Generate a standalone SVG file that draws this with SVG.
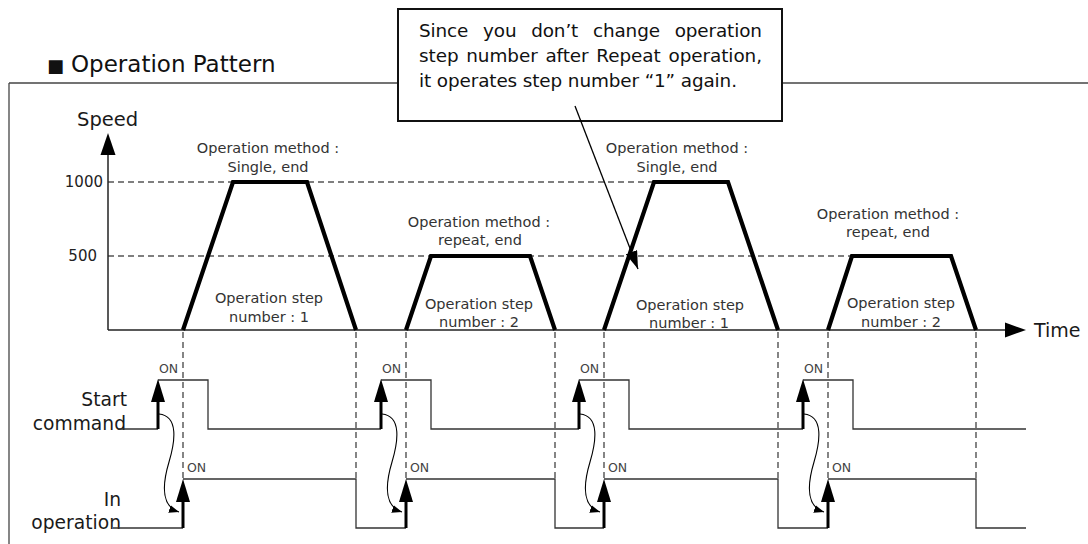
<svg xmlns="http://www.w3.org/2000/svg" width="1088" height="544" viewBox="0 0 1088 544">
<style>
text{font-family:"DejaVu Sans","Liberation Sans",sans-serif}
.big{font-size:18.7px;fill:#1a1a1a}
.lbl{font-size:14.5px;fill:#333;text-anchor:middle}
.on{font-size:12.5px;fill:#444}
.tick{font-size:15px;fill:#222;text-anchor:end}
.frame{stroke:#444;stroke-width:1.3;fill:none}
.hdash{stroke:#555;stroke-width:1.3;stroke-dasharray:6 4;fill:none}
.vdash{stroke:#222;stroke-width:1.1;stroke-dasharray:6 4;fill:none}
.axis{stroke:#222;stroke-width:1.5;fill:none}
.trap{stroke:#000;stroke-width:4.2;fill:none;stroke-linejoin:miter}
.sig{stroke:#333;stroke-width:1.3;fill:none}
.shaft{stroke:#000;stroke-width:3;fill:none}
.curve{stroke:#000;stroke-width:1.1;fill:none;marker-end:url(#small)}
.ah{fill:#000}
</style>
<defs>
<marker id="small" viewBox="0 0 10 8" refX="10" refY="4" markerWidth="10" markerHeight="8" markerUnits="userSpaceOnUse" orient="auto">
<path d="M0,0 L10,4 L0,8 Z" fill="#000"/>
</marker>
<marker id="ptr" viewBox="0 0 18 12" refX="18" refY="6" markerWidth="18" markerHeight="12" markerUnits="userSpaceOnUse" orient="auto">
<path d="M0,0 L18,6 L0,12 Z" fill="#000"/>
</marker>
</defs>

<g id="frame">
<line class="frame" x1="9" y1="83" x2="1088" y2="83"/>
<line class="frame" x1="9" y1="83" x2="9" y2="544"/>
<text x="47" y="72" style="font-size:23px;fill:#111"><tspan style="font-size:18px">■</tspan> <tspan x="71">Operation Pattern</tspan></text>
</g>

<g id="speed-axes">
<line class="hdash" x1="108" y1="182" x2="654" y2="182"/>
<line class="hdash" x1="108" y1="256" x2="852" y2="256"/>
<line class="axis" x1="108" y1="330" x2="108" y2="153"/>
<polygon class="ah" points="108,133 100.5,155 115.5,155"/>
<line class="axis" x1="108" y1="330" x2="1007" y2="330"/>
<polygon class="ah" points="1026,330 1005,322.5 1005,337.5"/>
<text x="77" y="126" style="font-size:19.5px;fill:#1a1a1a">Speed</text>
<text x="1034" y="337" style="font-size:19px;fill:#1a1a1a">Time</text>
<text class="tick" x="103" y="187">1000</text>
<text class="tick" x="97" y="261">500</text>
</g>

<g id="step1">
<polyline class="trap" points="183,330 233,182 307,182 356,330"/>
<text class="lbl" x="268" y="153">Operation method :</text>
<text class="lbl" x="268" y="172">Single, end</text>
<text class="lbl" x="269" y="303">Operation step</text>
<text class="lbl" x="269" y="322">number : 1</text>
</g>
<g id="step2">
<polyline class="trap" points="406,330 431,256 530,256 555,330"/>
<text class="lbl" x="479" y="227">Operation method :</text>
<text class="lbl" x="480" y="245">repeat, end</text>
<text class="lbl" x="479" y="309">Operation step</text>
<text class="lbl" x="479" y="327">number : 2</text>
</g>
<g id="step3">
<polyline class="trap" points="604,330 654,182 728,182 778,330"/>
<text class="lbl" x="677" y="153">Operation method :</text>
<text class="lbl" x="677" y="172">Single, end</text>
<text class="lbl" x="690" y="310">Operation step</text>
<text class="lbl" x="689" y="328">number : 1</text>
</g>
<g id="step4">
<polyline class="trap" points="828,330 852,256 951,256 976,330"/>
<text class="lbl" x="888" y="219">Operation method :</text>
<text class="lbl" x="888" y="237">repeat, end</text>
<text class="lbl" x="901" y="308">Operation step</text>
<text class="lbl" x="901" y="327">number : 2</text>
</g>

<g id="guides">
<line class="vdash" x1="183" y1="332" x2="183" y2="479"/>
<line class="vdash" x1="356" y1="332" x2="356" y2="479"/>
<line class="vdash" x1="406" y1="332" x2="406" y2="479"/>
<line class="vdash" x1="555" y1="332" x2="555" y2="479"/>
<line class="vdash" x1="604" y1="332" x2="604" y2="479"/>
<line class="vdash" x1="778" y1="332" x2="778" y2="479"/>
<line class="vdash" x1="828" y1="332" x2="828" y2="479"/>
<line class="vdash" x1="976" y1="332" x2="976" y2="479"/>
</g>

<g id="start-command">
<text class="big" x="127" y="406" text-anchor="end">Start</text>
<text class="big" x="126" y="430" text-anchor="end">command</text>
<polyline class="sig" points="118,429 158,429"/>
<polyline class="sig" points="158,380 208,380 208,429 381,429"/>
<polyline class="sig" points="381,380 431,380 431,429 579,429"/>
<polyline class="sig" points="579,380 629,380 629,429 803,429"/>
<polyline class="sig" points="803,380 853,380 853,429 1026,429"/>
<g id="start-arrows">
<line class="shaft" x1="158" y1="429" x2="158" y2="400"/><polygon class="ah" points="158,379 151,402 165,402"/>
<line class="shaft" x1="381" y1="429" x2="381" y2="400"/><polygon class="ah" points="381,379 374,402 388,402"/>
<line class="shaft" x1="579" y1="429" x2="579" y2="400"/><polygon class="ah" points="579,379 572,402 586,402"/>
<line class="shaft" x1="803" y1="429" x2="803" y2="400"/><polygon class="ah" points="803,379 796,402 810,402"/>
</g>
<text class="on" x="159" y="373">ON</text>
<text class="on" x="382" y="373">ON</text>
<text class="on" x="580" y="373">ON</text>
<text class="on" x="804" y="373">ON</text>
</g>

<g id="in-operation">
<text class="big" x="121" y="506" text-anchor="end">In</text>
<text class="big" x="121" y="529" text-anchor="end">operation</text>
<polyline class="sig" points="113,528 183,528"/>
<polyline class="sig" points="183,479 356,479 356,528 406,528"/>
<polyline class="sig" points="406,479 555,479 555,528 604,528"/>
<polyline class="sig" points="604,479 778,479 778,528 828,528"/>
<polyline class="sig" points="828,479 976,479 976,528 1026,528"/>
<g id="inop-arrows">
<line class="shaft" x1="183" y1="528" x2="183" y2="500"/><polygon class="ah" points="183,479 176,502 190,502"/>
<line class="shaft" x1="406" y1="528" x2="406" y2="500"/><polygon class="ah" points="406,479 399,502 413,502"/>
<line class="shaft" x1="604" y1="528" x2="604" y2="500"/><polygon class="ah" points="604,479 597,502 611,502"/>
<line class="shaft" x1="828" y1="528" x2="828" y2="500"/><polygon class="ah" points="828,479 821,502 835,502"/>
</g>
<text class="on" x="187" y="472">ON</text>
<text class="on" x="410" y="472">ON</text>
<text class="on" x="608" y="472">ON</text>
<text class="on" x="832" y="472">ON</text>
</g>

<g id="callout">
<rect x="398" y="9" width="384" height="112" fill="#fff" stroke="#111" stroke-width="2"/>
<text x="419" y="37" style="font-size:18.4px;fill:#111;word-spacing:9px" textLength="343">Since you don’t change operation</text>
<text x="419" y="62" style="font-size:18.4px;fill:#111;word-spacing:2px" textLength="343">step number after Repeat operation,</text>
<text x="419" y="87" style="font-size:18.4px;fill:#111" textLength="318">it operates step number “1” again.</text>
</g>

<g id="connectors">
<line x1="575" y1="106" x2="638" y2="269" stroke="#000" stroke-width="1.3" marker-end="url(#ptr)"/>
<path class="curve" d="M159,414 C179,416 175,442 169,462 C163,482 160,506 179,512"/>
<path class="curve" d="M382,414 C402,416 398,442 392,462 C386,482 383,506 402,512"/>
<path class="curve" d="M580,414 C600,416 596,442 590,462 C584,482 581,506 600,512"/>
<path class="curve" d="M804,414 C824,416 820,442 814,462 C808,482 805,506 824,512"/>
</g>
</svg>
